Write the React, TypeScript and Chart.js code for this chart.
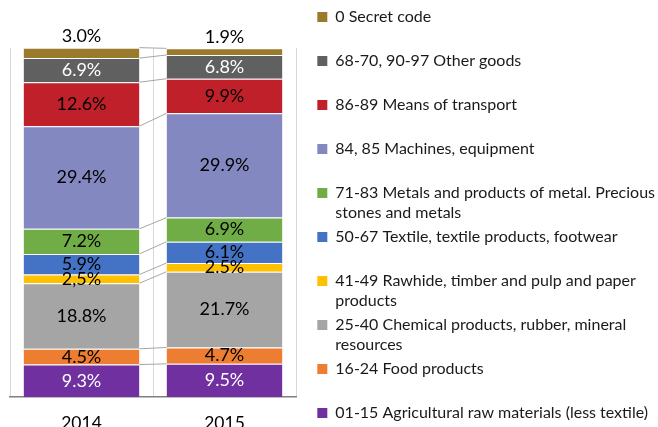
import { useEffect, useRef } from 'react';
import { Chart, registerables } from 'chart.js';

Chart.register(...registerables);

const years = ['2014', '2015'];

// Stack order, bottom to top (values in %)
const agricultural = [9.3, 9.5];
const food = [4.5, 4.7];
const chemical = [18.8, 21.7];
const rawhide = [2.5, 2.5];
const textile = [5.9, 6.1];
const metals = [7.2, 6.9];
const machines = [29.4, 29.9];
const transport = [12.6, 9.9];
const otherGoods = [6.9, 6.8];
const secretCode = [3.0, 1.9];

const seriesValues = [agricultural, food, chemical, rawhide, textile, metals, machines, transport, otherGoods, secretCode];

const seriesNames = [
  '01-15 Agricultural raw materials (less textile)',
  '16-24 Food products',
  '25-40 Chemical products, rubber, mineral resources',
  '41-49 Rawhide, timber and pulp and paper products',
  '50-67 Textile, textile products, footwear',
  '71-83 Metals and products of metal. Precious stones and metals',
  '84, 85 Machines, equipment',
  '86-89 Means of transport',
  '68-70, 90-97 Other goods',
  '0 Secret code',
];

const legendLines = [
  ['01-15 Agricultural raw materials (less textile)'],
  ['16-24 Food products'],
  ['25-40 Chemical products, rubber, mineral', 'resources'],
  ['41-49 Rawhide, timber and pulp and paper', 'products'],
  ['50-67 Textile, textile products, footwear'],
  ['71-83 Metals and products of metal. Precious', 'stones and metals'],
  ['84, 85 Machines, equipment'],
  ['86-89 Means of transport'],
  ['68-70, 90-97 Other goods'],
  ['0 Secret code'],
];

// labels written with a decimal comma in the source: "series-year"
const commaLabels = ['3-0'];

const colors = ['#7030A0', '#ED7D31', '#A5A5A5', '#FFC000', '#4472C4', '#70AD47', '#8488C0', '#C0202A', '#606060', '#9C7A2C'];
const labelColors = ['#ffffff', '#000000', '#000000', '#000000', '#000000', '#000000', '#000000', '#000000', '#ffffff', '#000000'];
const outsideLabelSeries = 9;

const FONT = 'Lato';
const PLOT_RIGHT = 296;
const RIGHT_OVERHANG = 7;

const connectorPlugin = {
  id: 'connectors',
  afterDatasetsDraw(chart: any) {
    const ctx = chart.ctx;
    ctx.save();
    ctx.strokeStyle = '#a6a6a6';
    ctx.lineWidth = 1;
    chart.data.datasets.forEach((_ds: any, i: number) => {
      const meta = chart.getDatasetMeta(i);
      for (let j = 0; j < meta.data.length - 1; j++) {
        const a = meta.data[j].getProps(['x', 'y', 'width'], true);
        const b = meta.data[j + 1].getProps(['x', 'y', 'width'], true);
        ctx.beginPath();
        ctx.moveTo(a.x + a.width / 2, a.y);
        ctx.lineTo(b.x - b.width / 2, b.y);
        ctx.stroke();
      }
    });
    ctx.restore();
  },
};

const valueLabelPlugin = {
  id: 'valueLabels',
  afterDatasetsDraw(chart: any) {
    const ctx = chart.ctx;
    ctx.save();
    ctx.font = `18px ${FONT}`;
    ctx.textAlign = 'center';
    ctx.textBaseline = 'middle';
    chart.data.datasets.forEach((ds: any, i: number) => {
      const meta = chart.getDatasetMeta(i);
      meta.data.forEach((el: any, j: number) => {
        const p = el.getProps(['x', 'y', 'base'], true);
        const v = ds.data[j] as number;
        let text = v.toFixed(1) + '%';
        if (commaLabels.includes(`${i}-${j}`)) text = text.replace('.', ',');
        const y = i === outsideLabelSeries ? p.y - 11.5 : (p.y + p.base) / 2;
        ctx.fillStyle = labelColors[i];
        ctx.fillText(text, p.x, y);
      });
    });
    ctx.restore();
  },
};

export default function App() {
  const canvasRef = useRef<HTMLCanvasElement | null>(null);

  useEffect(() => {
    if (!canvasRef.current) return;
    const chart = new Chart(canvasRef.current, {
      type: 'bar',
      data: {
        labels: years,
        datasets: seriesValues.map((vals, i) => ({
          label: seriesNames[i],
          data: vals,
          backgroundColor: colors[i],
          borderColor: 'rgba(255,255,255,0.45)',
          borderWidth: { top: 1, right: 0, bottom: 0, left: 0 },
          borderSkipped: false,
          categoryPercentage: 1,
          barPercentage: 0.81,
          xAxisID: 'x',
          yAxisID: 'y',
        })),
      },
      options: {
        animation: false,
        responsive: true,
        maintainAspectRatio: false,
        layout: { padding: { left: 10, right: -RIGHT_OVERHANG, top: 0, bottom: 0 } },
        font: { family: FONT },
        scales: {
          x: {
            type: 'category',
            position: 'bottom',
            stacked: true,
            grid: { color: '#d9d9d9', lineWidth: 1, offset: true, drawTicks: false },
            border: { color: '#808080', width: 1.5 },
            ticks: { color: '#000', font: { family: FONT, size: 17.5 }, padding: 16 },
            afterFit: (s: any) => { s.height = 30; },
          },
          y: {
            type: 'linear',
            position: 'right',
            stacked: true,
            min: 0,
            max: 100,
            ticks: { display: false },
            grid: { display: false },
            border: { display: false },
            afterFit: (s: any) => {
              const lg = s.chart.legend;
              const legendLeft = s.chart.width + RIGHT_OVERHANG - (lg ? lg.width : 0);
              s.width = Math.max(0, legendLeft - PLOT_RIGHT);
            },
          },
        },
        plugins: {
          title: {
            display: true,
            text: '',
            fullSize: false,
            padding: 0,
            font: { size: 10, lineHeight: '48px' },
          },
          tooltip: { enabled: false },
          legend: {
            position: 'right',
            align: 'start',
            reverse: true,
            maxWidth: 420,
            title: { display: true, text: '', padding: 0, font: { size: 5, lineHeight: '5px' } },
            labels: {
              boxWidth: 10,
              boxHeight: 10,
              padding: 4,
              color: '#1a1a1a',
              font: { family: FONT, size: 16, lineHeight: '20px' },
              generateLabels(chart: any) {
                const items = Chart.defaults.plugins.legend.labels.generateLabels(chart);
                return items.map((it: any) => {
                  const lines = legendLines[it.datasetIndex];
                  it.text = it.datasetIndex === 0 ? lines[0] : (lines.length > 1 ? lines : [lines[0], '']);
                  it.lineWidth = 0;
                  it.strokeStyle = it.fillStyle;
                  return it;
                });
              },
            },
          },
        },
      } as any,
      plugins: [connectorPlugin, valueLabelPlugin],
    });
    return () => chart.destroy();
  }, []);

  return (
    <div style={{ position: 'fixed', left: 0, top: 0, width: 658, height: 427, background: '#fff' }}>
      <canvas ref={canvasRef} />
    </div>
  );
}
